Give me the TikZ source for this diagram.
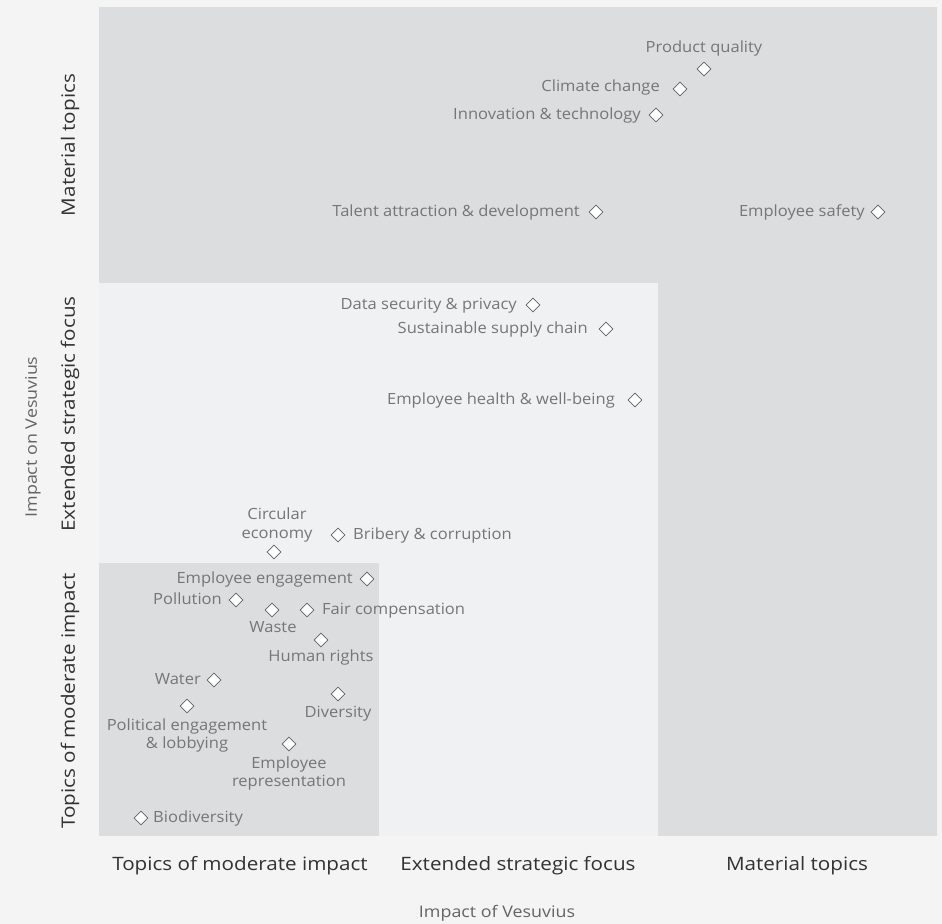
\documentclass[tikz,border=0pt]{standalone}
\usepackage{fontspec}
\setmainfont{Open Sans}
\newfontfamily\labfont{Open Sans}[FakeStretch=1.07]
\newfontfamily\axfont{Open Sans}[FakeStretch=1.12]
\usetikzlibrary{shapes.geometric}
\definecolor{bgc}{RGB}{244,244,244}
\definecolor{darkc}{RGB}{220,221,223}
\definecolor{lightc}{RGB}{240,241,243}
\definecolor{lblc}{RGB}{118,118,118}
\definecolor{axc}{RGB}{50,50,50}
\definecolor{axtc}{RGB}{100,100,100}
\tikzset{
  dia/.style={diamond, draw=black!62, fill=white, line width=0.7bp, minimum width=14bp, minimum height=14bp, inner sep=0pt},
  lab/.style={text=lblc, font=\labfont\fontsize{15.5}{18.5}\selectfont, inner sep=0pt, text height=11bp, text depth=3bp},
  axl/.style={text=axc, font=\axfont\fontsize{18.5}{20}\selectfont, inner sep=0pt},
  axt/.style={text=axtc, font=\axfont\fontsize{16}{18}\selectfont, inner sep=0pt},
}
\begin{document}
\begin{tikzpicture}[x=1bp,y=-1bp]
\fill[bgc] (0,0) rectangle (942,924);
\useasboundingbox (0,0) rectangle (942,924);
% zones
\fill[darkc] (99,7) rectangle (937,836);
\fill[lightc] (99,283) rectangle (658,836);
\fill[darkc] (99,563) rectangle (379,836);
% axis labels
\node[axl, rotate=90] (yMat) at (70,145) {Material topics};
\node[axl, rotate=90] (yExt) at (70,414) {Extended strategic focus};
\node[axl, rotate=90] (yMod) at (70,701) {Topics of moderate impact};
\node[axt, rotate=90] (yTitle) at (33,437) {Impact on Vesuvius};
\node[axl] (xMod) at (240,866) {Topics of moderate impact};
\node[axl] (xExt) at (518,866) {Extended strategic focus};
\node[axl] (xMat) at (797,866) {Material topics};
\node[axt] (xTitle) at (497,913) {Impact of Vesuvius};
% topics
\node[dia] (pq) at (704,69) {};
\node[lab] (pqL) at (704,48) {Product quality};
\node[dia] (cc) at (680,89) {};
\node[lab, anchor=east] (ccL) at (660,87) {Climate change};
\node[dia] (it) at (656,115) {};
\node[lab, anchor=east] (itL) at (641,115) {Innovation \& technology};
\node[dia] (ta) at (596,212) {};
\node[lab, anchor=east] (taL) at (580,212) {Talent attraction \& development};
\node[dia] (es) at (878,212) {};
\node[lab, anchor=east] (esL) at (865,212) {Employee safety};
\node[dia] (ds) at (533,305) {};
\node[lab, anchor=east] (dsL) at (517,305) {Data security \& privacy};
\node[dia] (ss) at (606,329) {};
\node[lab, anchor=east] (ssL) at (588,329) {Sustainable supply chain};
\node[dia] (eh) at (635,400) {};
\node[lab, anchor=east] (ehL) at (615,400) {Employee health \& well-being};
\node[dia] (ce) at (274,552) {};
\node[lab, align=center, text height=, text depth=] (ceL) at (277,525) {Circular\\economy};
\node[dia] (br) at (338,535) {};
\node[lab, anchor=west] (brL) at (353,535) {Bribery \& corruption};
\node[dia] (ee) at (367,579) {};
\node[lab, anchor=east] (eeL) at (353,579) {Employee engagement};
\node[dia] (po) at (236,600) {};
\node[lab, anchor=east] (poL) at (222,600) {Pollution};
\node[dia] (wa) at (272,610) {};
\node[lab] (waL) at (273,628) {Waste};
\node[dia] (fc) at (307,610) {};
\node[lab, anchor=west] (fcL) at (322,610) {Fair compensation};
\node[dia] (hr) at (321,640) {};
\node[lab] (hrL) at (321,657) {Human rights};
\node[dia] (wt) at (214,680) {};
\node[lab, anchor=east] (wtL) at (201,680) {Water};
\node[dia] (pe) at (187,706) {};
\node[lab, align=center, text height=, text depth=] (peL) at (187,735.5) {Political engagement\\\& lobbying};
\node[dia] (dv) at (338,694) {};
\node[lab] (dvL) at (338,713) {Diversity};
\node[dia] (er) at (289,744) {};
\node[lab, align=center, text height=, text depth=] (erL) at (289,773.5) {Employee\\representation};
\node[dia] (bd) at (141,818) {};
\node[lab, anchor=west] (bdL) at (153,818) {Biodiversity};
\end{tikzpicture}
\end{document}
